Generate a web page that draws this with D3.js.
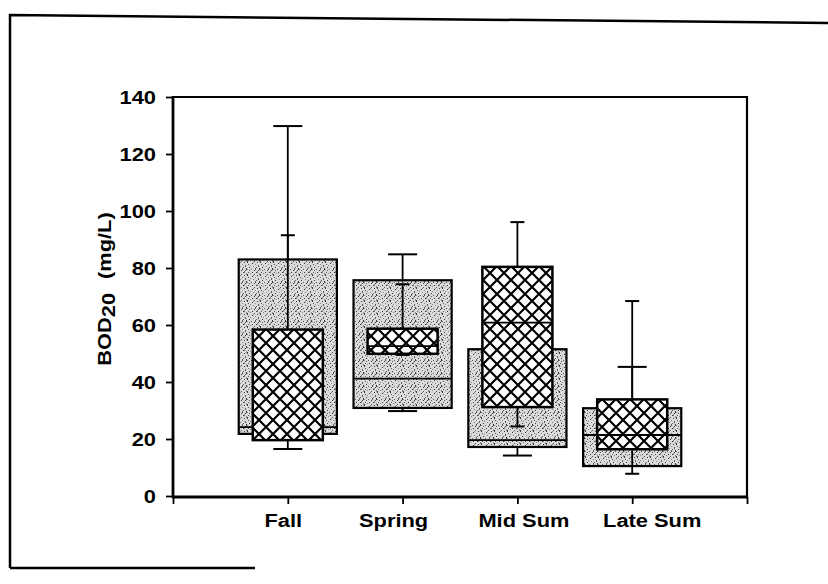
<!DOCTYPE html>
<html lang="en">
<head>
  <meta charset="UTF-8">
  <title>BOD20 box plot</title>
  <script src="https://d3js.org/d3.v7.min.js"></script>
  <style>
    body { margin: 0; background: #fff; }
    text { font-family: "Liberation Sans", Arial, sans-serif; font-weight: bold; fill: #000; }
  </style>
</head>
<body>
  <div id="chart"></div>
  <script>
  // values (mg/L)
  const categories = ["Fall", "Spring", "Mid Sum", "Late Sum"];

  // stippled (wide) boxes
  const stipLow  = [16.5, 29.8, 14.2, 10.5];
  const stipQ1   = [21.8, 30.9, 17.2, 10.5];
  const stipMed  = [24.2, 41.2, 19.6, 21.4];
  const stipQ3   = [83.0, 75.7, 51.5, 30.8];
  const stipHigh = [129.8, 84.8, 60.0, 45.3];

  // cross-hatched (narrow) boxes
  const hatchLow  = [19.6, 49.5, 24.4, 7.8];
  const hatchQ1   = [19.6, 49.9, 31.2, 16.4];
  const hatchMed  = [19.6, 52.6, 60.8, 21.4];
  const hatchQ3   = [58.4, 58.7, 80.4, 33.9];
  const hatchHigh = [91.5, 74.3, 96.1, 68.4];

  const yTicks = [0, 20, 40, 60, 80, 100, 120, 140];

  const width = 828, height = 584;
  const plot = { left: 173, right: 747, top: 97, bottom: 497 };
  const stretch = 1.15; // scanned type is wider than Arial
  const fontSize = "19px";

  const svg = d3.select("#chart").append("svg")
    .attr("width", width)
    .attr("height", height);

  const defs = svg.append("defs");

  // stipple texture for the wide boxes
  const stip = defs.append("pattern")
    .attr("id", "stipple")
    .attr("patternUnits", "userSpaceOnUse")
    .attr("width", 13).attr("height", 13);
  stip.append("rect").attr("width", 13).attr("height", 13).attr("fill", "#dadada");
  const dots = [[0,1],[3,0],[7,1],[10,2],[12,0],[1,4],[5,3],[8,4],[11,5],[2,7],[6,6],[9,7],
                [12,8],[0,9],[4,9],[7,10],[10,11],[1,12],[5,12],[3,5],[8,8],[11,10],[6,2],[2,10],[9,12]];
  stip.selectAll("rect.d").data(dots).enter().append("rect")
    .attr("class", "d")
    .attr("x", d => d[0]).attr("y", d => d[1])
    .attr("width", 1)
    .attr("height", (d, i) => i % 4 === 0 ? 2 : 1)
    .attr("fill", (d, i) => ["#3a3a3a", "#8a8a8a", "#5c5c5c"][i % 3]);

  // cross hatch for the narrow boxes
  const hatch = defs.append("pattern")
    .attr("id", "hatch")
    .attr("patternUnits", "userSpaceOnUse")
    .attr("width", 14).attr("height", 14);
  hatch.append("rect").attr("width", 14).attr("height", 14).attr("fill", "#fff");
  hatch.append("path")
    .attr("d", "M7,0 L14,7 L7,14 L0,7 Z")
    .attr("fill", "none")
    .attr("stroke", "#000")
    .attr("stroke-width", 2.2);

  const x = d3.scalePoint()
    .domain(categories)
    .range([plot.left, plot.right])
    .padding(1);

  const xTick = d3.scaleLinear()
    .domain([0, categories.length + 1])
    .range([plot.left, plot.right]);

  const y = d3.scaleLinear()
    .domain([0, 140])
    .range([496, plot.top]);

  const step = x.step();

  // outer figure frame (scan is slightly skewed)
  svg.append("path")
    .attr("d", `M10,568 L10,15 L828,23`)
    .attr("fill", "none").attr("stroke", "#000").attr("stroke-width", 2.5);
  svg.append("line")
    .attr("x1", 10).attr("x2", 255).attr("y1", 568).attr("y2", 568)
    .attr("stroke", "#000").attr("stroke-width", 2.5);

  // plot frame top / right
  svg.append("path")
    .attr("d", `M${plot.left},${plot.top} L${plot.right},${plot.top} L${plot.right},${plot.bottom}`)
    .attr("fill", "none").attr("stroke", "#000").attr("stroke-width", 2.2);

  function drawSeries(cls, low, q1, med, q3, high, boxFrac, capW, fill, boxStroke) {
    const g = svg.append("g").attr("class", cls);
    const rows = categories.map((c, i) => ({ c, low: low[i], q1: q1[i], med: med[i], q3: q3[i], high: high[i] }));
    const bw = step * boxFrac;

    const item = g.selectAll("g.item").data(rows).enter().append("g").attr("class", "item");

    // whiskers
    item.append("line")
      .attr("x1", d => x(d.c)).attr("x2", d => x(d.c))
      .attr("y1", d => y(d.q3)).attr("y2", d => y(d.high))
      .attr("stroke", "#000").attr("stroke-width", 1.8);
    item.filter(d => d.high > d.q3).append("line")
      .attr("x1", d => x(d.c) - capW / 2).attr("x2", d => x(d.c) + capW / 2)
      .attr("y1", d => y(d.high)).attr("y2", d => y(d.high))
      .attr("stroke", "#000").attr("stroke-width", 2);
    item.append("line")
      .attr("x1", d => x(d.c)).attr("x2", d => x(d.c))
      .attr("y1", d => y(d.q1)).attr("y2", d => y(d.low))
      .attr("stroke", "#000").attr("stroke-width", 1.8);
    item.filter(d => d.low < d.q1).append("line")
      .attr("x1", d => x(d.c) - capW / 2).attr("x2", d => x(d.c) + capW / 2)
      .attr("y1", d => y(d.low)).attr("y2", d => y(d.low))
      .attr("stroke", "#000").attr("stroke-width", 2);

    // box
    item.append("rect")
      .attr("x", d => x(d.c) - bw / 2)
      .attr("width", bw)
      .attr("y", d => y(d.q3))
      .attr("height", d => y(d.q1) - y(d.q3))
      .attr("fill", fill)
      .attr("stroke", "#000")
      .attr("stroke-width", boxStroke);

    // median
    item.append("line")
      .attr("x1", d => x(d.c) - bw / 2).attr("x2", d => x(d.c) + bw / 2)
      .attr("y1", d => y(d.med)).attr("y2", d => y(d.med))
      .attr("stroke", "#000").attr("stroke-width", 1.8);

    return item;
  }

  drawSeries("stipple-series", stipLow, stipQ1, stipMed, stipQ3, stipHigh,
    0.855, 29, "url(#stipple)", 2.2);

  drawSeries("hatch-series", hatchLow, hatchQ1, hatchMed, hatchQ3, hatchHigh,
    0.61, 14, "url(#hatch)", 2.5);

  // y axis
  const yAxis = svg.append("g")
    .attr("transform", `translate(${plot.left},0)`)
    .call(d3.axisLeft(y).tickValues(yTicks).tickSize(7).tickPadding(0));
  yAxis.select(".domain").remove();
  yAxis.selectAll(".tick line").attr("stroke", "#000").attr("stroke-width", 1.8);
  yAxis.selectAll(".tick text")
    .attr("x", -17 / stretch)
    .attr("dy", "0.36em")
    .attr("transform", `scale(${stretch},1)`)
    .style("font-size", fontSize)
    .style("font-family", "'Liberation Sans', Arial, sans-serif")
    .style("font-weight", "bold");
  svg.append("line")
    .attr("x1", plot.left).attr("x2", plot.left)
    .attr("y1", plot.top - 1).attr("y2", plot.bottom + 1)
    .attr("stroke", "#000").attr("stroke-width", 2.8);

  // x axis
  const xAxis = svg.append("g")
    .attr("transform", `translate(0,${plot.bottom})`)
    .call(d3.axisBottom(xTick).ticks(categories.length + 1).tickSize(7).tickFormat(""));
  xAxis.select(".domain").remove();
  xAxis.selectAll(".tick line").attr("stroke", "#000").attr("stroke-width", 1.8);
  svg.append("line")
    .attr("x1", plot.left - 1).attr("x2", plot.right + 1)
    .attr("y1", plot.bottom).attr("y2", plot.bottom)
    .attr("stroke", "#000").attr("stroke-width", 2.8);

  // category labels (typed slightly off their ticks in the original)
  const labelNudge = [-4.5, -9, 6.5, 20];
  svg.selectAll("text.cat")
    .data(categories)
    .enter().append("text")
    .attr("class", "cat")
    .attr("text-anchor", "middle")
    .attr("transform", (d, i) => `translate(${x(d) + labelNudge[i]},527) scale(${stretch},1)`)
    .style("font-size", fontSize)
    .text(d => d);

  // y title
  const title = svg.append("text")
    .attr("text-anchor", "middle")
    .attr("transform", `translate(111,289) rotate(-90) scale(${stretch},1)`)
    .style("font-size", fontSize);
  title.append("tspan").text("BOD");
  title.append("tspan").attr("dy", 4).text("20");
  title.append("tspan").attr("dy", -4).attr("dx", 12).text("(mg/L)");
  </script>
</body>
</html>
